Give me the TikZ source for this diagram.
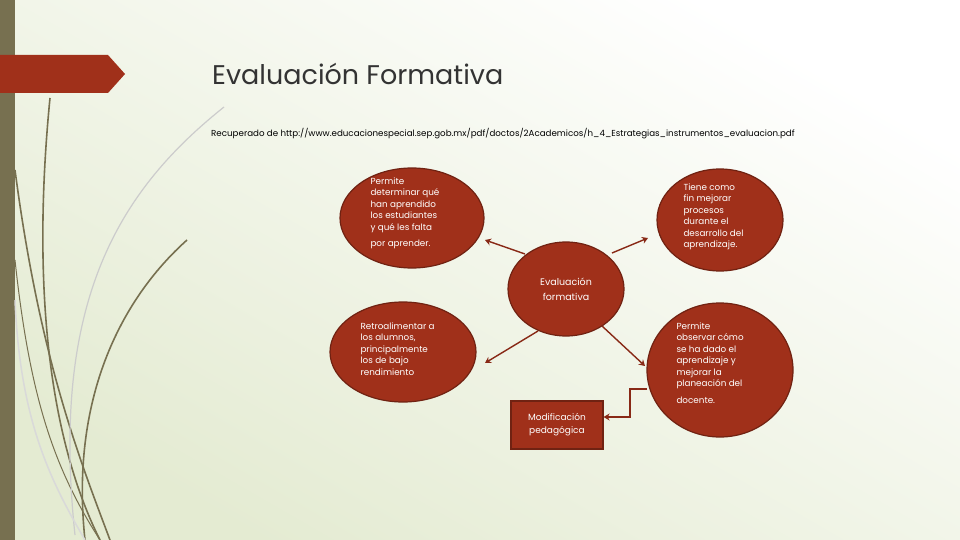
\documentclass[tikz,border=0pt]{standalone}
\usepackage{fontspec}
\setmainfont{Poppins}
\usetikzlibrary{arrows.meta,shapes.geometric}
\definecolor{rust}{HTML}{A0301A}
\definecolor{olive}{HTML}{777050}
\definecolor{bgend}{HTML}{E4EBD2}
\begin{document}
\begin{tikzpicture}[x=1pt,y=-1pt,
  bub/.style={ellipse,draw=rust!70!black,line width=1.2pt,fill=rust,text=white,inner sep=0pt},
  btxt/.style={text=white,font=\fontsize{8.8}{11.5}\selectfont,align=left,anchor=north west},
  conn/.style={draw=rust!85!black,line width=1.4pt,-{Stealth[length=6pt,width=7pt]}},
  stem/.style={draw=olive,line width=1.6pt}]
\useasboundingbox (0,0) rectangle (960,540);
\shade[top color=white,bottom color=bgend,shading angle=-30] (0,0) rectangle (960,540);
\fill[olive] (0,0) rectangle (15,540);
% decorative stems
\draw[stem] (15,170) .. controls (40,360) and (80,460) .. (110,540);
\draw[stem] (50,98) .. controls (35,250) and (40,420) .. (100,540);
\draw[stem] (187,240) .. controls (120,300) and (70,400) .. (85,540);
\draw[stem,line width=1pt] (15,260) .. controls (30,400) and (55,470) .. (100,540);
\draw[gray!40,line width=1.2pt] (224,107) .. controls (120,190) and (50,300) .. (75,535);
\draw[gray!30,line width=1.5pt] (15,300) .. controls (20,420) and (50,480) .. (85,540);
\fill[rust] (0,55) -- (108,55) -- (125,74) -- (108,93) -- (0,93) -- cycle;
\node[anchor=west,font=\fontsize{27}{30}\selectfont,text=black!80,inner sep=0pt] (title) at (212,74) {Evaluación Formativa};
\node[anchor=west,font=\fontsize{8.7}{10}\selectfont,inner sep=0pt] (src) at (211,134) {Recuperado de http://www.educacionespecial.sep.gob.mx/pdf/doctos/2Academicos/h\_4\_Estrategias\_instrumentos\_evaluacion.pdf};
% bubbles
\node[bub,minimum width=116pt,minimum height=94pt] (c) at (566,289) {};
\node[text=white,font=\fontsize{9.5}{15}\selectfont,align=center] (ct) at (566,289) {Evaluación\\formativa};
\node[bub,minimum width=144pt,minimum height=100pt] (tl) at (412,218) {};
\node[btxt] (tlt) at (367,174) {Permite\\determinar qué\\han aprendido\\los estudiantes\\y qué les falta\\[5pt]por aprender.};
\node[bub,minimum width=126pt,minimum height=102pt] (tr) at (720,220) {};
\node[btxt] (trt) at (680,180) {Tiene como\\fin mejorar\\procesos\\durante el\\desarrollo del\\aprendizaje.};
\node[bub,minimum width=146pt,minimum height=100pt] (bl) at (403,352) {};
\node[btxt] (blt) at (357,319) {Retroalimentar a\\los alumnos,\\principalmente\\los de bajo\\rendimiento};
\node[bub,minimum width=146pt,minimum height=134pt] (br) at (720,370) {};
\node[btxt] (brt) at (673,319) {Permite\\observar cómo\\se ha dado el\\aprendizaje y\\mejorar la\\planeación del\\[5pt]docente.};
\node[draw=rust!70!black,line width=1.2pt,fill=rust,minimum width=92pt,minimum height=48pt,text=white,font=\fontsize{9}{13}\selectfont,align=center] (m) at (557,425) {Modificación\\pedagógica};
% connectors
\coordinate (c1) at (525,254); \coordinate (c2) at (612,253);
\coordinate (c3) at (538,331); \coordinate (c4) at (602,326);
\coordinate (k1) at (647,389);
\draw[conn] (c1) -- (485,240);
\draw[conn] (c2) -- (648,238);
\draw[conn] (c3) -- (485,363);
\draw[conn] (c4) -- (645,366);
\draw[conn] (k1) -- (630,389) -- (630,417) -- (m.east|-0,417);
\end{tikzpicture}
\end{document}
